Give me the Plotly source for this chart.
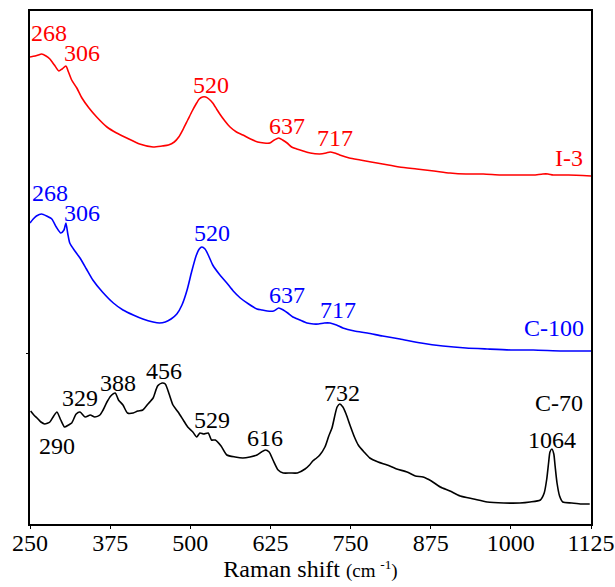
import plotly.graph_objects as go

# ---- data (Raman shift in cm^-1, intensity in arbitrary units) ----
i3_x = [250, 258, 263, 268, 275, 281, 288, 295, 300, 306, 310, 315, 323, 331, 342, 354, 370, 385,
        401, 421, 442, 456, 466, 475, 482, 489, 496, 503, 509, 514, 519, 524, 529, 535, 541, 546,
        554, 562, 572, 582, 594, 605, 615, 624, 631, 638, 644, 651, 658, 666, 676, 687, 702, 712,
        718, 725, 733, 748, 765, 782, 800, 826, 853, 880, 905, 930, 957, 984, 1010, 1035, 1050,
        1058, 1066, 1090, 1125]
i3_y = [467, 468, 469, 470, 468, 465, 459, 453, 455, 458, 452, 444, 436, 426, 416, 407, 397, 391,
        386, 380, 377, 378, 379, 382, 387, 395, 404, 413, 420, 425, 427, 427, 425, 421, 415, 410,
        403, 397, 392, 389, 385, 382, 381, 381, 384, 386, 384, 381, 377, 375, 373, 371, 370, 371,
        372, 371, 369, 366, 364, 362, 360, 357, 355, 353, 351, 350, 350, 349, 349, 349, 350,
        350, 349, 349, 348]

c100_x = [250, 255, 260, 268, 276, 284, 291, 298, 303, 306, 309, 312, 320, 328, 338, 348, 363,
          380, 395, 411, 426, 442, 452, 461, 470, 479, 487, 495, 502, 509, 514, 518, 523, 528,
          535, 545, 557, 567, 578, 591, 604, 612, 620, 630, 638, 645, 652, 660, 671, 682, 692,
          700, 709, 718, 728, 738, 756, 776, 800, 827, 860, 894, 930, 963, 1000, 1035, 1080, 1125]
c100_y = [301, 305, 308, 310, 308, 305, 297, 291, 294, 301, 290, 281, 273, 266, 255, 244, 232,
          221, 214, 209, 205, 202, 201, 202, 205, 210, 219, 234, 252, 268, 275, 277, 275, 269,
          259, 250, 241, 233, 226, 220, 215, 214, 213, 213, 216, 214, 211, 207, 204, 201, 200,
          200, 201, 201, 199, 196, 193, 191, 188, 185, 181, 178, 176, 175, 174, 174, 173, 173]

c70_x = [251, 256, 261, 267, 273, 281, 287, 292, 298, 304, 310, 315, 322, 328, 336, 344, 351, 359,
         364, 370, 376, 383, 388, 395, 402, 411, 418, 426, 434, 442, 449, 456, 461, 467, 473, 481,
         489, 496, 504, 510, 515, 521, 528, 533, 539, 548, 557, 570, 582, 593, 604, 611, 617, 623,
         629, 637, 645, 656, 667, 679, 686, 691, 697, 702, 710, 716, 721, 726, 729, 733, 738, 743,
         749, 756, 762, 771, 780, 793, 807, 822, 838, 851, 863, 876, 890, 905, 921, 942, 963, 989,
         1014, 1030, 1046, 1052, 1056, 1059, 1061, 1064, 1067, 1069, 1072, 1076, 1081, 1095, 1110, 1123]
c70_y = [113, 109, 106, 102, 100, 102, 108, 112, 104, 97, 99, 101, 110, 112, 107, 109, 107, 109,
         114, 122, 128, 131, 124, 119, 111, 111, 113, 114, 120, 126, 138, 141, 140, 130, 119, 112,
         104, 97, 92, 87, 91, 90, 91, 84, 84, 78, 69, 67, 66, 67, 69, 72, 74, 72, 64, 54, 51, 51,
         51, 55, 59, 63, 66, 69, 77, 88, 96, 110, 117, 120, 117, 110, 99, 87, 79, 72, 66, 62, 59,
         55, 52, 48, 47, 43, 37, 33, 28, 25, 22, 21, 21, 22, 24, 31, 45, 62, 72, 75, 70, 58, 41, 28,
         22, 21, 20, 20]

series_names = ["I-3", "C-100", "C-70"]
series_colors = ["#ff0000", "#0000ff", "#000000"]

x_ticks = [250, 375, 500, 625, 750, 875, 1000, 1125]

# peak labels per series
i3_peaks = ["268", "306", "520", "637", "717"]
c100_peaks = ["268", "306", "520", "637", "717"]
c70_peaks = ["290", "329", "388", "456", "529", "616", "732", "1064"]

# ---- label placement (layout only) ----
i3_pos = [(279, 491), (331, 471), (532, 439), (651, 398), (726, 386)]
c100_pos = [(281, 331), (331, 311), (534, 291), (651, 229), (730, 214)]
c70_pos = [(292, 78), (328, 126), (387, 141), (459, 153), (534, 104), (617, 86), (737, 131), (1064, 84)]
name_pos = [(1091, 366), (1067, 196), (1075, 121)]

FONT = "Times New Roman, Liberation Serif, DejaVu Serif, serif"

fig = go.Figure()
for xs, ys, name, col in zip([i3_x, c100_x, c70_x], [i3_y, c100_y, c70_y], series_names, series_colors):
    fig.add_trace(go.Scatter(x=xs, y=ys, mode="lines", name=name,
                             line=dict(color=col, width=1.6, shape="spline", smoothing=0.6),
                             showlegend=False))

annotations = []
for peaks, pos, col in zip([i3_peaks, c100_peaks, c70_peaks], [i3_pos, c100_pos, c70_pos], series_colors):
    for t, (px, py) in zip(peaks, pos):
        annotations.append(dict(x=px, y=py, xref="x", yref="y", text=t, showarrow=False,
                                font=dict(family=FONT, size=24, color=col)))
for name, (px, py), col in zip(series_names, name_pos, series_colors):
    annotations.append(dict(x=px, y=py, xref="x", yref="y", text=name, showarrow=False,
                            font=dict(family=FONT, size=24, color=col)))

fig.update_layout(
    width=615, height=587,
    margin=dict(l=30, r=24, t=11, b=63),
    paper_bgcolor="white", plot_bgcolor="white",
    font=dict(family=FONT, size=24, color="black"),
    annotations=annotations,
    xaxis=dict(range=[250, 1125], tickvals=x_ticks, ticktext=[str(v) for v in x_ticks],
               ticks="outside", ticklen=3, tickwidth=1.2, tickcolor="black",
               ticklabelstandoff=-7,
               showline=True, linecolor="black", linewidth=1.6, mirror=True,
               showgrid=False, zeroline=False, automargin=False,
               tickfont=dict(family=FONT, size=24, color="black"),
               title=dict(text="Raman shift <span style='font-size:19px'>(cm <sup>-1</sup>)</span>",
                          font=dict(family=FONT, size=24, color="black"), standoff=6)),
    yaxis=dict(range=[0, 513], showticklabels=False, tickvals=[171], ticks="outside",
               ticklen=2, tickwidth=1, tickcolor="black", automargin=False,
               showline=True, linecolor="black", linewidth=1.6, mirror=True,
               showgrid=False, zeroline=False),
)

fig.write_html("out.html")
